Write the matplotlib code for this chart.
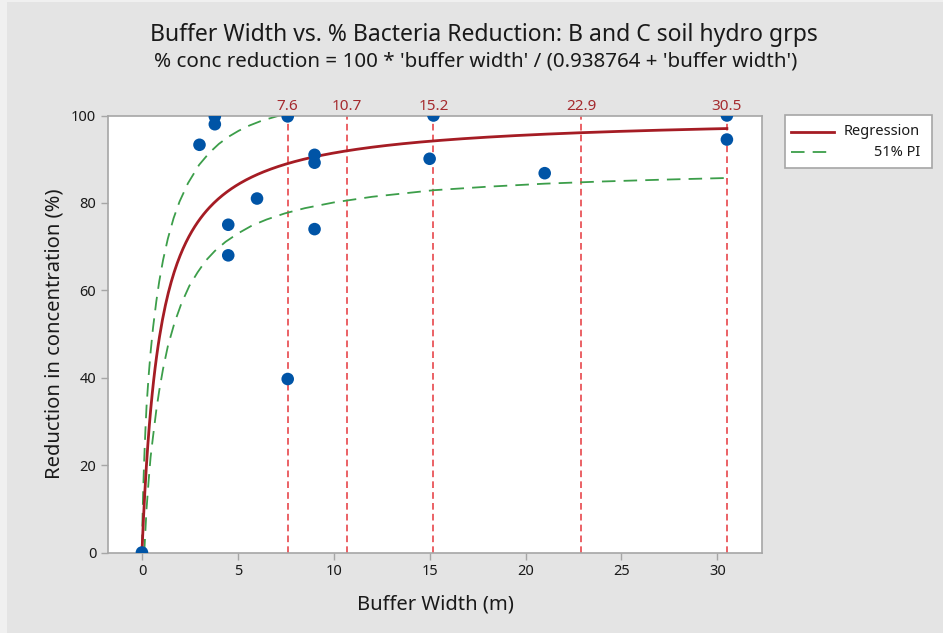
import matplotlib
matplotlib.use("Agg")
import matplotlib.pyplot as plt
from matplotlib.patches import Rectangle
from matplotlib.lines import Line2D
from matplotlib.transforms import blended_transform_factory
import numpy as np

plt.rcParams["font.family"] = ["Noto Sans", "DejaVu Sans"]

BG_COLOR = "#e4e4e4"
EDGE_COLOR = "#f0f0f0"
SPINE_COLOR = "#a6a6a6"
TEXT_COLOR = "#1a1a1a"
POINT_COLOR = "#0054a6"
REG_COLOR = "#a51c24"
PI_COLOR = "#3c9e4a"
VLINE_COLOR = "#e8474c"
VLABEL_COLOR = "#a52a2e"

W_PX, H_PX = 943, 633

# observed data
buffer_width = [0, 3.0, 3.8, 3.8, 4.5, 4.5, 6.0, 7.6, 7.6, 9.0, 9.0, 9.0,
                15.2, 15.0, 21.0, 30.5, 30.5]
reduction = [0, 93.3, 99.8, 98.0, 75.0, 68.0, 81.0, 99.8, 39.7, 91.0, 89.2, 74.0,
             100.0, 90.1, 86.8, 100.0, 94.5]

# fitted model: % reduction = 100 * w / (K + w)
K_FIT = 0.938764
reg_x = np.linspace(0, 30.5, 400)

# 51% prediction interval
pi_upper_x = [0, 0.03, 0.07, 0.12, 0.18, 0.24, 0.35, 0.45, 0.58, 0.75, 0.9, 1.1,
              1.35, 1.65, 1.96, 2.4, 2.98, 3.5, 4.01, 4.5, 5.04, 5.6, 6.24, 7.1,
              7.6, 8.0]
pi_upper_y = [1, 8, 15, 21.5, 28, 33.5, 40.5, 45.8, 51.5, 57.5, 62, 66.9,
              71.8, 76.5, 80.3, 84.5, 88.7, 91.4, 93.5, 95.1, 96.5, 97.7, 98.8, 99.9,
              100.4, 100.9]
pi_lower_x = [0.12, 0.16, 0.24, 0.35, 0.45, 0.58, 0.75, 0.9, 1.1, 1.35, 1.7, 2.05,
              2.47, 2.9, 3.33, 3.8, 4.36, 5.0, 5.73, 6.5, 7.45, 8.5, 10, 12,
              15.2, 18, 21, 24, 27, 30.5]
pi_lower_y = [0, 3.3, 10, 16.5, 21.8, 26.6, 32.6, 37, 42, 47.2, 52.6, 56.9,
              61.0, 64.1, 66.8, 69.0, 71.1, 73.0, 74.8, 76.2, 77.6, 78.8, 80.1, 81.4,
              82.9, 83.7, 84.4, 84.9, 85.3, 85.7]

# reference buffer widths
ref_widths = [7.6, 10.7, 15.2, 22.9, 30.5]
ref_labels = ["7.6", "10.7", "15.2", "22.9", "30.5"]

legend_labels = ["Regression", "51% PI"]

PI_DASH = (0, (7.5, 4.5))


def fx(px):
    return px / W_PX


def fy(py):
    return 1 - py / H_PX


fig = plt.figure(figsize=(W_PX / 100, H_PX / 100), dpi=100)
fig.patch.set_facecolor(BG_COLOR)
# light frame strip at the left and top edges
fig.patches.append(Rectangle((0, 0), fx(7), 1, transform=fig.transFigure,
                             facecolor=EDGE_COLOR, edgecolor="none", zorder=0))
fig.patches.append(Rectangle((0, fy(2)), 1, 2 / H_PX, transform=fig.transFigure,
                             facecolor=EDGE_COLOR, edgecolor="none", zorder=0))

ax = fig.add_axes([fx(108), fy(552.5), fx(654), 437 / H_PX])
ax.set_facecolor("white")

for w in ref_widths:
    ax.axvline(w, color=VLINE_COLOR, lw=1.2, ls=(0, (4, 2.5)), zorder=1)

trans = blended_transform_factory(ax.transData, ax.transAxes)
for w, lab in zip(ref_widths, ref_labels):
    ax.text(w, 1.004, lab, transform=trans, ha="center", va="bottom",
            fontsize=11, color=VLABEL_COLOR)

reg_y = 100 * reg_x / (K_FIT + reg_x)
ax.plot(reg_x, reg_y, color=REG_COLOR, lw=2.0, zorder=3)
ax.plot(pi_upper_x, pi_upper_y, color=PI_COLOR, lw=1.3, ls=PI_DASH, zorder=2)
ax.plot(pi_lower_x, pi_lower_y, color=PI_COLOR, lw=1.3, ls=PI_DASH, zorder=2)

ax.scatter(buffer_width, reduction, s=82, color=POINT_COLOR, zorder=4,
           edgecolors="none")

ax.set_xlim(-1.77, 32.33)
ax.set_ylim(0, 100)
ax.set_xticks([0, 5, 10, 15, 20, 25, 30])
ax.set_yticks([0, 20, 40, 60, 80, 100])
ax.tick_params(axis="both", colors=SPINE_COLOR, labelcolor=TEXT_COLOR,
               labelsize=10.5, length=5, width=1)
for sp in ax.spines.values():
    sp.set_color(SPINE_COLOR)
    sp.set_linewidth(1.2)

ax.set_xlabel("Buffer Width (m)", fontsize=14.5, color=TEXT_COLOR, labelpad=11)
ax.set_ylabel("Reduction in concentration (%)", fontsize=14.5, color=TEXT_COLOR,
              labelpad=5)

fig.text(fx(484), fy(35), "Buffer Width vs. % Bacteria Reduction: B and C soil hydro grps",
         ha="center", va="center", fontsize=16.5, color=TEXT_COLOR)
fig.text(fx(476), fy(61), "% conc reduction = 100 * 'buffer width' / (0.938764 + 'buffer width')",
         ha="center", va="center", fontsize=14.8, color=TEXT_COLOR)

# legend box drawn by hand so the labels can sit right-aligned
fig.patches.append(Rectangle((fx(785), fy(168)), fx(932) - fx(785), fy(115) - fy(168),
                             transform=fig.transFigure, facecolor="white",
                             edgecolor=SPINE_COLOR, linewidth=1.2, zorder=5))
leg_styles = [dict(color=REG_COLOR, lw=2.0, ls="-"),
              dict(color=PI_COLOR, lw=1.3, ls=PI_DASH)]
for i, (lab, st) in enumerate(zip(legend_labels, leg_styles)):
    yy = fy(132 + 20 * i)
    fig.add_artist(Line2D([fx(791), fx(834)], [yy, yy], transform=fig.transFigure,
                          zorder=6, **st))
    fig.text(fx(920), yy, lab, ha="right", va="center", fontsize=10.5,
             color=TEXT_COLOR, zorder=6)

fig.savefig("out.png", dpi=100, facecolor=BG_COLOR)
